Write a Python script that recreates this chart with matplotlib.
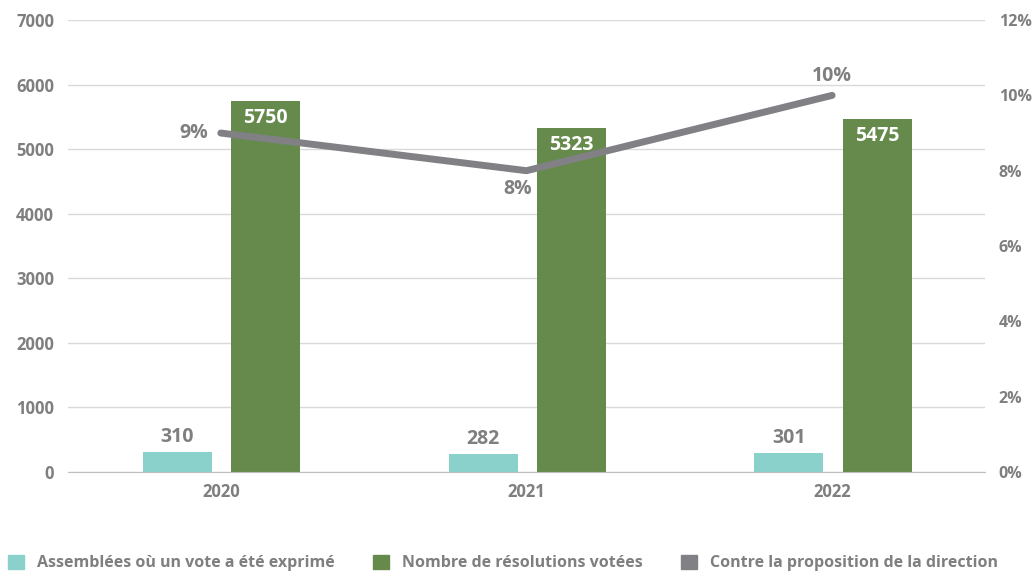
import numpy as np
import matplotlib.pyplot as plt
from matplotlib.patches import Patch

plt.rcParams['font.family'] = ['Open Sans', 'DejaVu Sans']

years = ['2020', '2021', '2022']
assemblees = [310, 282, 301]
resolutions = [5750, 5323, 5475]
contre = [9, 8, 10]

c_cyan = '#8ad1cc'
c_green = '#668a4c'
c_gray = '#818085'
c_text = '#7f7f7f'

fig = plt.figure(figsize=(10.33, 5.73), dpi=100)
ax = fig.add_axes([0.0658, 0.1763, 0.8877, 0.7887])
ax2 = ax.twinx()

x = np.arange(len(years))
w = 0.226
b1 = ax.bar(x - 0.142, assemblees, w, color=c_cyan, zorder=2)
b2 = ax.bar(x + 0.147, resolutions, w, color=c_green, zorder=2)

for r, v in zip(b1, assemblees):
    ax.text(r.get_x() + r.get_width() / 2, v + 70, str(v), ha='center', va='bottom',
            fontsize=14, fontweight='bold', color=c_text)
for r, v in zip(b2, resolutions):
    ax.text(r.get_x() + r.get_width() / 2, v - 110, str(v), ha='center', va='top',
            fontsize=14, fontweight='bold', color='white')

ax.set_ylim(0, 7000)
ax.set_xlim(-0.5, 2.5)
ax.set_yticks(range(0, 7001, 1000))
ax.set_xticks(x)
ax.set_xticklabels(years)
ax.grid(axis='y', color='#d9d9d9', linewidth=1, zorder=0)
ax.set_axisbelow(True)

ax2.plot(x, contre, color=c_gray, linewidth=5, solid_capstyle='round', zorder=3)
ax2.set_ylim(0, 12)
ax2.set_yticks(range(0, 13, 2))
ax2.set_yticklabels([f'{v}%' for v in range(0, 13, 2)])
ax2.text(x[0] - 0.04, contre[0], f'{contre[0]}%', ha='right', va='center',
         fontsize=14, fontweight='bold', color=c_text)
ax2.text(x[1] - 0.03, contre[1] - 0.22, f'{contre[1]}%', ha='center', va='top',
         fontsize=14, fontweight='bold', color=c_text)
ax2.text(x[2], contre[2] + 0.25, f'{contre[2]}%', ha='center', va='bottom',
         fontsize=14, fontweight='bold', color=c_text)

for a in (ax, ax2):
    for s in a.spines.values():
        s.set_visible(False)
    a.tick_params(length=0, labelsize=12, labelcolor=c_text)
    for lbl in a.get_xticklabels() + a.get_yticklabels():
        lbl.set_fontweight('bold')
ax.spines['bottom'].set_visible(True)
ax.spines['bottom'].set_color('#bfbfbf')
ax.tick_params(axis='y', pad=10)
ax.tick_params(axis='x', pad=8)
ax2.tick_params(axis='y', pad=10, labelsize=11.5)

handles = [Patch(color=c_cyan), Patch(color=c_green), Patch(color=c_gray)]
labels = ['Assemblées où un vote a été exprimé', 'Nombre de résolutions votées',
          'Contre la proposition de la direction']
leg = fig.legend(handles, labels, loc='lower left', bbox_to_anchor=(-0.006, -0.022), ncol=3,
                 frameon=False, handlelength=1.0, handleheight=1.0, handletextpad=0.8,
                 columnspacing=2.4, prop={'size': 11.5, 'weight': 'bold'})
for t in leg.get_texts():
    t.set_color(c_text)

fig.savefig('out.png', dpi=100)
